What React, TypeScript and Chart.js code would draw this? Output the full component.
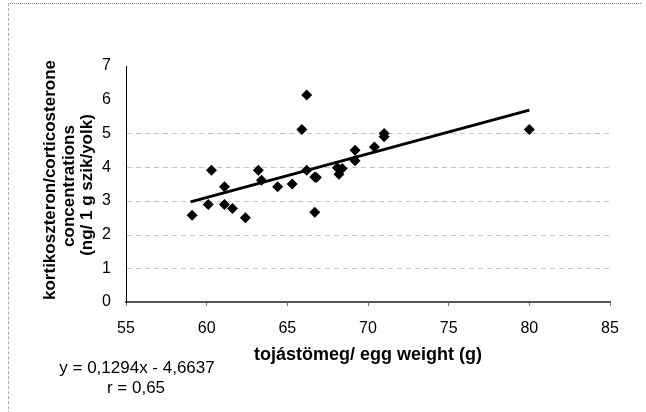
import React, { useEffect, useRef } from "react";
import { Chart, registerables } from "chart.js";

Chart.register(...registerables);

// Egg weight (g) and corticosterone concentration (ng / 1 g yolk)
const eggWeight = [59.1, 60.1, 60.3, 61.1, 61.1, 61.6, 62.4, 63.2, 63.4, 64.4, 65.3, 65.9, 66.2, 66.2, 66.7, 66.8, 66.7, 68.1, 68.2, 68.4, 69.2, 69.2, 70.4, 71.0, 71.0, 80.0];
const cortico = [2.57, 2.89, 3.91, 3.42, 2.89, 2.77, 2.5, 3.91, 3.61, 3.42, 3.5, 5.12, 6.14, 3.91, 3.71, 3.69, 2.66, 3.98, 3.79, 3.96, 4.5, 4.19, 4.6, 5.0, 4.9, 5.12];

// Trend line end points
const trendX = [59.0, 80.0];
const trendY = [2.97, 5.69];

const xTicks = [55, 60, 65, 70, 75, 80, 85];
const yTicks = [0, 1, 2, 3, 4, 5, 6, 7];
const gridValues = [1, 2, 3, 4, 5];

const yTitleLines = ["kortikoszteron/corticosterone", "concentrations", "(ng/ 1 g szik/yolk)"];
const xTitle = "tojástömeg/ egg weight (g)";
const equationText = "y = 0,1294x - 4,6637";
const rText = "r = 0,65";

const FONT = "'Liberation Sans', Arial, Helvetica, sans-serif";

export default function App() {
  const ref = useRef<HTMLCanvasElement | null>(null);

  useEffect(() => {
    if (!ref.current) return;

    const gridPlugin = {
      id: "dashedGrid",
      beforeDatasetsDraw(chart: any) {
        const { ctx, chartArea, scales } = chart;
        const ys = scales.y;
        ctx.save();
        ctx.strokeStyle = "#c4c4c4";
        ctx.lineWidth = 1;
        ctx.setLineDash([5, 4]);
        gridValues.forEach((v) => {
          const py = Math.round(ys.getPixelForValue(v)) + 0.5;
          ctx.beginPath();
          ctx.moveTo(chartArea.left + 1, py);
          ctx.lineTo(chartArea.right, py);
          ctx.stroke();
        });
        ctx.restore();
      },
    };

    const textPlugin = {
      id: "texts",
      afterDraw(chart: any) {
        const ctx = chart.ctx;
        ctx.save();
        ctx.fillStyle = "#000";
        // y title
        const yPos = [
          [50, 180],
          [69, 186],
          [87, 185],
        ];
        ctx.font = `bold 17px ${FONT}`;
        ctx.textAlign = "center";
        ctx.textBaseline = "middle";
        yTitleLines.forEach((line, i) => {
          ctx.save();
          ctx.translate(yPos[i][0], yPos[i][1]);
          ctx.rotate(-Math.PI / 2);
          ctx.fillText(line, 0, 0);
          ctx.restore();
        });
        // x title
        ctx.font = `bold 18px ${FONT}`;
        ctx.fillText(xTitle, 368, 355);
        // equation
        ctx.font = `17px ${FONT}`;
        ctx.fillText(equationText, 137, 368);
        ctx.fillText(rText, 136, 388);
        ctx.restore();
      },
    };

    const chart = new Chart(ref.current, {
      type: "scatter",
      data: {
        datasets: [
          {
            type: "scatter",
            data: eggWeight.map((x, i) => ({ x, y: cortico[i] })),
            pointStyle: "rectRot",
            pointRadius: 5.5,
            backgroundColor: "#000",
            borderColor: "#000",
            borderWidth: 0,
            order: 1,
          },
          {
            type: "line",
            data: trendX.map((x, i) => ({ x, y: trendY[i] })),
            borderColor: "#000",
            borderWidth: 3,
            pointRadius: 0,
            fill: false,
            showLine: true,
            order: 2,
          } as any,
        ],
      },
      options: {
        animation: false,
        responsive: false,
        layout: { padding: { left: 0, top: 66, right: 36, bottom: 0 } },
        plugins: {
          legend: { display: false },
          tooltip: { enabled: false },
        },
        scales: {
          x: {
            type: "linear",
            min: 55,
            max: 85,
            afterBuildTicks: (s: any) => {
              s.ticks = xTicks.map((v) => ({ value: v }));
            },
            afterFit: (s: any) => {
              s.height = 110;
            },
            ticks: {
              color: "#000",
              font: { family: FONT, size: 16 },
              padding: 13,
              maxRotation: 0,
            },
            grid: {
              drawOnChartArea: false,
              drawTicks: true,
              tickLength: 4,
              tickColor: "#777",
              tickWidth: 1,
            },
            border: { display: true, color: "#555", width: 2 },
          },
          y: {
            type: "linear",
            min: 0,
            max: 7,
            afterBuildTicks: (s: any) => {
              s.ticks = yTicks.map((v) => ({ value: v }));
            },
            afterFit: (s: any) => {
              s.width = 126;
            },
            ticks: {
              color: "#000",
              font: { family: FONT, size: 16 },
              padding: 15,
            },
            grid: {
              drawOnChartArea: false,
              drawTicks: false,
            },
            border: { display: true, color: "#000", width: 1 },
          },
        },
      },
      plugins: [gridPlugin, textPlugin],
    });

    return () => chart.destroy();
  }, []);

  return (
    <div style={{ position: "fixed", left: 0, top: 0, width: 646, height: 412, background: "#fff" }}>
      <canvas ref={ref} width={646} height={412} style={{ display: "block" }} />
      <div
        style={{
          position: "absolute",
          left: 8,
          top: 3,
          width: 632,
          height: 420,
          borderTop: "1px dotted #888",
          borderLeft: "1px dashed #aaa",
          pointerEvents: "none",
        }}
      />
    </div>
  );
}
